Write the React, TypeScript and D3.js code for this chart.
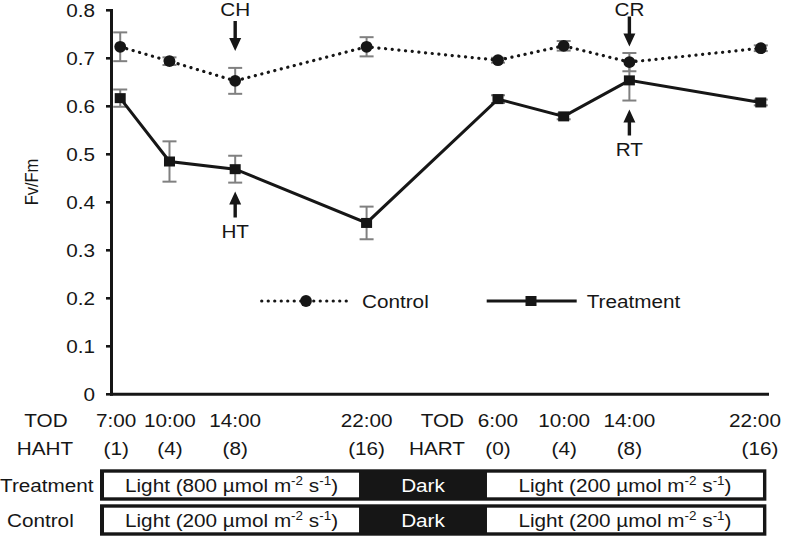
import React from 'react';
import * as d3 from 'd3';

// ---- data ----
const hours = [7, 10, 14, 22, 30, 34, 38, 46];
const todLabels = ['7:00', '10:00', '14:00', '22:00', '6:00', '10:00', '14:00', '22:00'];
const hoursAfterLabels = ['(1)', '(4)', '(8)', '(16)', '(0)', '(4)', '(8)', '(16)'];
const controlMean = [0.724, 0.694, 0.653, 0.724, 0.696, 0.726, 0.692, 0.721];
const controlErr = [0.030, 0.008, 0.027, 0.020, 0.005, 0.010, 0.019, 0.006];
const treatmentMean = [0.617, 0.485, 0.469, 0.357, 0.615, 0.579, 0.654, 0.608];
const treatmentErr = [0.018, 0.042, 0.028, 0.034, 0.008, 0.006, 0.042, 0.006];
const yTicks = [0, 0.1, 0.2, 0.3, 0.4, 0.5, 0.6, 0.7, 0.8];
const annotations = [
  { label: 'CH', hour: 14, dir: 'down' },
  { label: 'HT', hour: 14, dir: 'up' },
  { label: 'CR', hour: 38, dir: 'down' },
  { label: 'RT', hour: 38, dir: 'up' },
];
const scheduleRows = ['Treatment', 'Control'];
const treatmentIntensity = [800, null, 200];
const controlIntensity = [200, null, 200];
const scheduleBounds = [5.77, 21.54, 29.33, 46.34]; // hours: start, lights off, lights on, end

// ---- layout ----
const W = 787, H = 537;
const SX = 1.12;
const FONT = 'Liberation Sans, Arial, Helvetica, sans-serif';
const INK = '#161616';
const GREY = '#808080';
const labelShift = [-4, 0.5, 0, 0, 0, 0.5, 0, 0];

const xScale = d3.scaleLinear().domain([6.5, 46.5]).range([112, 769]);
const yScale = d3.scaleLinear().domain([0, 0.8]).range([394.3, 10.3]);

function Txt({ x, y, anchor = 'start', size = 18.5, fill = INK, rotate = 0, children }: any) {
  return (
    <text
      transform={`translate(${x},${y}) scale(${SX},1)${rotate ? ` rotate(${rotate})` : ''}`}
      textAnchor={anchor}
      fontSize={size}
      fill={fill}
      fontFamily={FONT}
    >
      {children}
    </text>
  );
}

function arrowPath(x: number, tail: number, tip: number) {
  const dir = tip > tail ? 1 : -1;
  const headLen = 13;
  const hw = 6;
  const sw = 1.7;
  const base = tip - dir * headLen;
  return `M${x - sw},${tail} L${x + sw},${tail} L${x + sw},${base} L${x + hw},${base} L${x},${tip} L${x - hw},${base} L${x - sw},${base} Z`;
}

function LightLabel({ x, y, intensity, fill }: any) {
  return (
    <text
      transform={`translate(${x},${y}) scale(${SX},1)`}
      textAnchor="middle"
      fontSize={18.5}
      fill={fill}
      fontFamily={FONT}
    >
      {`Light (${intensity} µmol m`}
      <tspan fontSize={12} dy={-7}>-2</tspan>
      <tspan dy={7}> s</tspan>
      <tspan fontSize={12} dy={-7}>-1</tspan>
      <tspan dy={7}>)</tspan>
    </text>
  );
}

export default function App() {
  const controlPts = hours.map((h, i) => [xScale(h), yScale(controlMean[i])] as [number, number]);
  const treatPts = hours.map((h, i) => [xScale(h), yScale(treatmentMean[i])] as [number, number]);
  const line = d3.line();

  const errBar = (h: number, m: number, e: number, key: string) => {
    const x = xScale(h);
    const y1 = yScale(m + e), y2 = yScale(m - e);
    return (
      <g key={key} stroke={GREY} strokeWidth={2}>
        <line x1={x} x2={x} y1={y1} y2={y2} />
        <line x1={x - 7} x2={x + 7} y1={y1} y2={y1} />
        <line x1={x - 7} x2={x + 7} y1={y2} y2={y2} />
      </g>
    );
  };

  const rowTop = [469.3, 504.3];
  const rowH = 31.4;
  const intensities = [treatmentIntensity, controlIntensity];

  return (
    <svg width={W} height={H} style={{ position: 'absolute', left: 0, top: 0, background: '#fff' }}>
      <rect x={0} y={0} width={W} height={H} fill="#fff" />

      {/* y axis */}
      <line x1={111.5} x2={111.5} y1={yScale(0.8) - 1.3} y2={yScale(0) + 1.5} stroke={INK} strokeWidth={3} />
      {yTicks.map((t) => (
        <g key={t}>
          <line x1={106} x2={111} y1={yScale(t)} y2={yScale(t)} stroke={INK} strokeWidth={2.6} />
          <Txt x={95} y={yScale(t) + 6.6} anchor="end">{t === 0 ? '0' : t.toFixed(1)}</Txt>
        </g>
      ))}
      <Txt x={38} y={182} anchor="middle" size={16.5} rotate={-90}>Fv/Fm</Txt>

      {/* x axis */}
      <line x1={110} x2={769} y1={yScale(0)} y2={yScale(0)} stroke={INK} strokeWidth={3} />

      {/* error bars */}
      {hours.map((h, i) => errBar(h, controlMean[i], controlErr[i], 'ce' + i))}
      {hours.map((h, i) => errBar(h, treatmentMean[i], treatmentErr[i], 'te' + i))}

      {/* lines */}
      <path d={line(controlPts) || ''} fill="none" stroke={INK} strokeWidth={3.2} strokeDasharray="0.1 6.6" strokeLinecap="round" />
      <path d={line(treatPts) || ''} fill="none" stroke={INK} strokeWidth={3} />

      {/* markers */}
      {controlPts.map(([x, y], i) => <circle key={'cm' + i} cx={x} cy={y} r={5.9} fill={INK} />)}
      {treatPts.map(([x, y], i) => <rect key={'tm' + i} x={x - 5.5} y={y - 5} width={11} height={10} fill={INK} />)}

      {/* annotations */}
      {annotations.map((a, i) => {
        const x = xScale(a.hour);
        const idx = hours.indexOf(a.hour);
        if (a.dir === 'down') {
          const tip = yScale(controlMean[idx] + controlErr[idx]) - (idx === 2 ? 17 : 6.5);
          return (
            <g key={'an' + i}>
              <path d={arrowPath(x, tip - 30, tip)} fill={INK} />
              <Txt x={x} y={15.5} anchor="middle">{a.label}</Txt>
            </g>
          );
        }
        const tip = yScale(treatmentMean[idx] - treatmentErr[idx]) + 9;
        return (
          <g key={'an' + i}>
            <path d={arrowPath(x, tip + 26, tip)} fill={INK} />
            <Txt x={x} y={tip + 46.5} anchor="middle">{a.label}</Txt>
          </g>
        );
      })}

      {/* legend */}
      <line x1={261.7} x2={351.7} y1={301} y2={301} stroke={INK} strokeWidth={3.2} strokeDasharray="0.1 6.4" strokeLinecap="round" />
      <circle cx={306} cy={301} r={5.9} fill={INK} />
      <Txt x={362} y={308.3}>Control</Txt>
      <line x1={486.7} x2={576.7} y1={301} y2={301} stroke={INK} strokeWidth={3} />
      <rect x={531 - 5.5} y={296} width={11} height={10} fill={INK} />
      <Txt x={586.7} y={308.3}>Treatment</Txt>

      {/* x tick labels */}
      <Txt x={46} y={426.7} anchor="middle">TOD</Txt>
      <Txt x={45} y={454.5} anchor="middle">HAHT</Txt>
      <Txt x={464} y={426.7} anchor="end">TOD</Txt>
      <Txt x={465} y={454.5} anchor="end">HART</Txt>
      {hours.map((h, i) => (
        <g key={'xl' + i}>
          <Txt x={Math.min(xScale(h) + labelShift[i], 780 - todLabels[i].length * 5)} y={426.7} anchor="middle">{todLabels[i]}</Txt>
          <Txt x={Math.min(xScale(h) + labelShift[i], 780 - hoursAfterLabels[i].length * 5)} y={454.5} anchor="middle">{hoursAfterLabels[i]}</Txt>
        </g>
      ))}

      {/* light schedule */}
      {scheduleRows.map((row, r) => {
        const top = rowTop[r];
        const x0 = xScale(scheduleBounds[0]);
        const x1 = xScale(scheduleBounds[1]);
        const x2 = xScale(scheduleBounds[2]);
        const x3 = xScale(scheduleBounds[3]);
        const textY = top + 22.4;
        return (
          <g key={row}>
            <Txt x={r === 0 ? 0 : 7} y={textY}>{row}</Txt>
            <rect x={x0} y={top} width={x3 - x0} height={rowH} fill={INK} />
            <rect x={x0 + 4} y={top + 3.4} width={x1 - x0 - 4} height={rowH - 6.8} fill="#fff" />
            <rect x={x2} y={top + 3.4} width={x3 - x2 - 3.4} height={rowH - 6.8} fill="#fff" />
            <LightLabel x={(x0 + 4 + x1) / 2} y={textY} intensity={intensities[r][0]} fill={INK} />
            <Txt x={(x1 + x2) / 2} y={textY} anchor="middle" fill="#fff">Dark</Txt>
            <LightLabel x={(x2 + x3 - 3.4) / 2} y={textY} intensity={intensities[r][2]} fill={INK} />
          </g>
        );
      })}
    </svg>
  );
}
